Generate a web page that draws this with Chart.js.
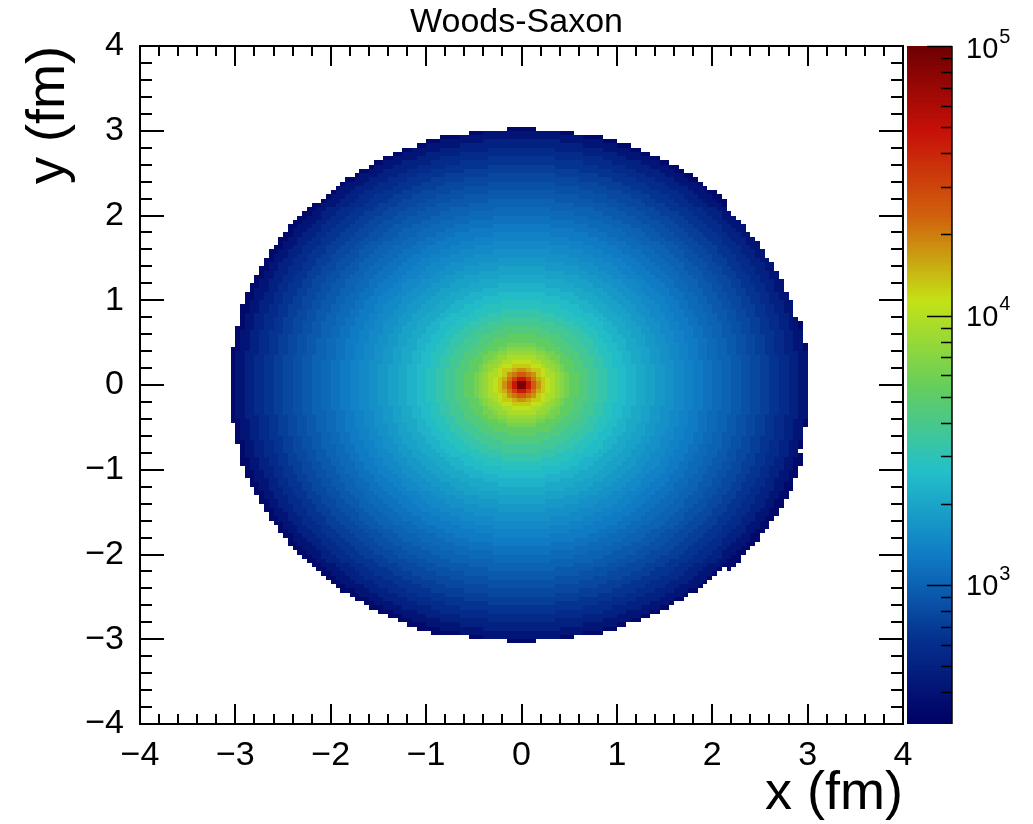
<!DOCTYPE html>
<html>
<head>
<meta charset="utf-8">
<script src="https://cdn.jsdelivr.net/npm/chart.js@4.4.1/dist/chart.umd.min.js"></script>
<style>
  html, body { margin: 0; padding: 0; background: #fff; }
  #wrap { width: 1033px; height: 824px; }
</style>
</head>
<body>
<div id="wrap"><canvas id="chart" width="1033" height="824"></canvas></div>
<script>
const titleText = "Woods-Saxon";
const xTitle = "x (fm)";
const yTitle = "y (fm)";
const axisMin = -4;
const axisMax = 4;
const binWidth = 0.05;
const zMin = 305;
const zMax = 100000;
const zLabelExps = [3, 4, 5];

// radial profile: upper radius of each ring (fm) and bin content
const ringEdges = [0.05, 0.09, 0.115, 0.135, 0.16, 0.185, 0.21, 0.25, 0.3, 0.35, 0.4, 0.45, 0.5,
  0.6, 0.7, 0.8, 0.9, 1.0, 1.1, 1.2, 1.3, 1.4, 1.5, 1.6, 1.7, 1.8, 1.9, 2.0, 2.1, 2.2, 2.3,
  2.4, 2.5, 2.6, 2.7, 2.8, 2.9, 3.0, 3.2];
const ringCounts = [90000, 46000, 31000, 25000, 21000, 18000, 15500, 13000, 11000, 9300, 8000, 7000, 6200,
  5200, 4400, 3750, 3280, 2870, 2560, 2300, 2100, 1920, 1760, 1620, 1490, 1380, 1280, 1180, 1090, 1010, 930,
  860, 790, 720, 650, 580, 500, 420, 350];

// outer edge of the filled disc per 30 degree sector, from +x going counter-clockwise
const edgeAngles = [0, 30, 60, 90, 120, 150, 180, 210, 240, 270, 300, 330];
const edgeRadii = [3.02, 2.99, 3.05, 3.03, 3.04, 3.07, 3.06, 3.07, 3.07, 3.03, 3.04, 3.08];

// ROOT kRainBow palette
const palStops = [0, 0.125, 0.25, 0.375, 0.5, 0.625, 0.75, 0.875, 1];
const palR = [0, 5, 15, 35, 102, 196, 208, 199, 110];
const palG = [0, 48, 124, 192, 206, 226, 97, 16, 0];
const palB = [99, 142, 198, 201, 90, 22, 13, 8, 2];

function palColor(f) {
  f = Math.min(1, Math.max(0, f));
  let k = 0;
  while (k < palStops.length - 2 && f > palStops[k + 1]) k++;
  const t = (f - palStops[k]) / (palStops[k + 1] - palStops[k]);
  const c = (arr) => Math.round(arr[k] + (arr[k + 1] - arr[k]) * t);
  return `rgb(${c(palR)},${c(palG)},${c(palB)})`;
}

function edgeAt(angleDeg) {
  const step = edgeAngles[1] - edgeAngles[0];
  return edgeRadii[Math.round(angleDeg / step) % edgeAngles.length];
}

const cells = [];
const nBins = Math.round((axisMax - axisMin) / binWidth);
for (let i = 0; i < nBins; i++) {
  for (let j = 0; j < nBins; j++) {
    const cx = axisMin + (i + 0.5) * binWidth;
    const cy = axisMin + (j + 0.5) * binWidth;
    const r = Math.hypot(cx, cy);
    let ang = Math.atan2(cy, cx) * 180 / Math.PI;
    if (ang < 0) ang += 360;
    if (r >= edgeAt(ang)) continue;
    const ring = ringEdges.findIndex((e) => r < e);
    if (ring < 0) continue;
    cells.push({ x: cx, y: cy, v: ringCounts[ring] });
  }
}

const minus = (v) => (v < 0 ? "\u2212" + Math.abs(v) : String(v));
const fontFamily = "'Liberation Sans', Arial, Helvetica, sans-serif";

const heatmapPlugin = {
  id: "heatmap",
  beforeDatasetsDraw(chart) {
    const { ctx, scales: { x, y, z } } = chart;
    const half = binWidth / 2;
    const span = z.bottom - z.top;
    ctx.save();
    chart.data.datasets[0].data.forEach((c) => {
      const x0 = Math.round(x.getPixelForValue(c.x - half));
      const x1 = Math.round(x.getPixelForValue(c.x + half));
      const y0 = Math.round(y.getPixelForValue(c.y + half));
      const y1 = Math.round(y.getPixelForValue(c.y - half));
      ctx.fillStyle = palColor((z.bottom - z.getPixelForValue(c.v)) / span);
      ctx.fillRect(x0, y0, x1 - x0, y1 - y0);
    });
    ctx.restore();
  },
  afterDraw(chart) {
    const { ctx, chartArea: a, scales: { x, y, z } } = chart;
    ctx.save();
    ctx.strokeStyle = "#000";
    ctx.lineWidth = 2;
    ctx.strokeRect(a.left, a.top, a.right - a.left, a.bottom - a.top);

    ctx.beginPath();
    for (let k = 0; k <= 40; k++) {
      const v = axisMin + k * 0.2;
      const major = k % 5 === 0;
      const px = Math.round(x.getPixelForValue(v));
      const lx = major ? 20 : 10;
      ctx.moveTo(px, a.bottom); ctx.lineTo(px, a.bottom - lx);
      ctx.moveTo(px, a.top); ctx.lineTo(px, a.top + lx);
      const py = Math.round(y.getPixelForValue(v));
      const ly = major ? 24 : 12;
      ctx.moveTo(a.left, py); ctx.lineTo(a.left + ly, py);
      ctx.moveTo(a.right, py); ctx.lineTo(a.right - ly, py);
    }
    ctx.stroke();

    // colour bar
    const bx0 = a.right + 4;
    const bx1 = a.right + 49;
    const n = 255;
    const lmin = Math.log10(zMin);
    const lmax = Math.log10(zMax);
    for (let k = 0; k < n; k++) {
      const ya = z.getPixelForValue(Math.pow(10, lmin + (lmax - lmin) * k / n));
      const yb = z.getPixelForValue(Math.pow(10, lmin + (lmax - lmin) * (k + 1) / n));
      ctx.fillStyle = palColor((k + 0.5) / n);
      ctx.fillRect(bx0, Math.floor(yb), bx1 - bx0, Math.ceil(ya) - Math.floor(yb));
    }
    ctx.lineWidth = 1.5;
    ctx.beginPath();
    ctx.moveTo(bx1, z.top); ctx.lineTo(bx1, z.bottom);
    for (let e = 2; e <= 5; e++) {
      for (let m = 1; m <= 9; m++) {
        const v = m * Math.pow(10, e);
        if (v < zMin || v > zMax) continue;
        const py = Math.round(z.getPixelForValue(v)) + 0.5;
        ctx.moveTo(bx1, py); ctx.lineTo(bx1 - (m === 1 ? 25 : 11), py);
      }
    }
    ctx.stroke();

    ctx.fillStyle = "#000";
    ctx.textBaseline = "middle";
    ctx.textAlign = "left";
    zLabelExps.forEach((e) => {
      const py = z.getPixelForValue(Math.pow(10, e)) + (e === 5 ? 4 : 2);
      ctx.font = `29px ${fontFamily}`;
      ctx.fillText("10", bx1 + 14, py);
      const w = ctx.measureText("10").width;
      ctx.font = `20px ${fontFamily}`;
      ctx.fillText(String(e), bx1 + 14 + w + 1, py - 13);
    });
    ctx.restore();
  },
};

Chart.defaults.font.family = fontFamily;
Chart.defaults.color = "#000";

new Chart(document.getElementById("chart"), {
  type: "scatter",
  data: {
    datasets: [{ data: cells, pointRadius: 0, pointHoverRadius: 0, showLine: false }],
  },
  options: {
    responsive: false,
    devicePixelRatio: 1,
    animation: false,
    events: [],
    layout: { padding: 0 },
    plugins: {
      legend: { display: false },
      tooltip: { enabled: false },
      title: {
        display: true,
        text: titleText,
        color: "#000",
        font: { size: 34, weight: "normal", lineHeight: "40px" },
        padding: { top: 3, bottom: 3 },
      },
    },
    scales: {
      x: {
        type: "linear",
        position: "bottom",
        min: axisMin,
        max: axisMax,
        afterFit: (s) => { s.height = 100; },
        grid: { display: false },
        border: { display: false },
        ticks: { stepSize: 1, autoSkip: false, maxRotation: 0, padding: 3, font: { size: 34 }, callback: minus },
        title: { display: true, text: xTitle, align: "end", font: { size: 54 }, padding: { top: 0, bottom: -3 } },
      },
      y: {
        type: "linear",
        position: "left",
        min: axisMin,
        max: axisMax,
        afterFit: (s) => { s.width = 140; },
        grid: { display: false },
        border: { display: false },
        ticks: { stepSize: 1, autoSkip: false, padding: 8, font: { size: 34 }, callback: minus },
        title: { display: true, text: yTitle, align: "end", font: { size: 54 }, padding: { top: 17 } },
      },
      z: {
        type: "logarithmic",
        axis: "y",
        position: "right",
        min: zMin,
        max: zMax,
        afterFit: (s) => { s.width = 130; },
        grid: { display: false },
        border: { display: false },
        ticks: { display: false },
      },
    },
  },
  plugins: [heatmapPlugin],
});
</script>
</body>
</html>
